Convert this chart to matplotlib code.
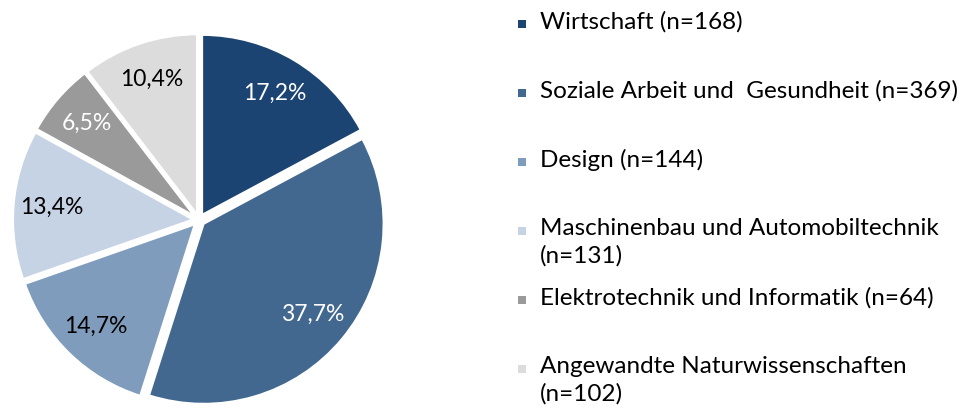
import numpy as np
import matplotlib.pyplot as plt
from matplotlib.patches import Rectangle

# Daten
labels = ['Wirtschaft (n=168)',
          'Soziale Arbeit und  Gesundheit (n=369)',
          'Design (n=144)',
          'Maschinenbau und Automobiltechnik\n(n=131)',
          'Elektrotechnik und Informatik (n=64)',
          'Angewandte Naturwissenschaften\n(n=102)']
counts = [168, 369, 144, 131, 64, 102]
colors = ['#1b4473', '#43688f', '#7f9cbc', '#c5d3e5', '#9a9a9a', '#dcdcdc']
label_colors = ['white', 'white', 'black', 'black', 'white', 'black']

plt.rcParams['font.family'] = ['Lato', 'DejaVu Sans']

W, H = 964, 413
fig = plt.figure(figsize=(W / 100, H / 100), dpi=100)
ax = fig.add_axes([0, 0, 1, 1])


def fmt(p):
    return '{:.1f}%'.format(p).replace('.', ',')


# explode ist hier in Pixeln (Datenkoordinaten), nicht relativ zum Radius
wedges, texts, autotexts = ax.pie(counts, colors=colors, startangle=90, counterclock=False,
                                  center=(199, 193), radius=180, explode=[6] * len(counts),
                                  autopct=fmt, pctdistance=0.79, frame=True,
                                  wedgeprops=dict(linewidth=1.5, edgecolor='white'))
for t, c in zip(autotexts, label_colors):
    t.set_color(c)
    t.set_fontsize(16.5)

ax.set_xlim(0, W)
ax.set_ylim(0, H)
ax.set_aspect('equal')
ax.axis('off')

# Legende (manuell, feste Abstaende)
y0 = 23
step = 69
for i, (lab, col) in enumerate(zip(labels, colors)):
    y = H - (y0 + i * step)
    ax.add_patch(Rectangle((518, y - 5), 8, 8, color=col, lw=0))
    ax.text(540, y + 12, lab, fontsize=17.5, va='top', ha='left', linespacing=1.35)

fig.savefig('out.png', dpi=100)
